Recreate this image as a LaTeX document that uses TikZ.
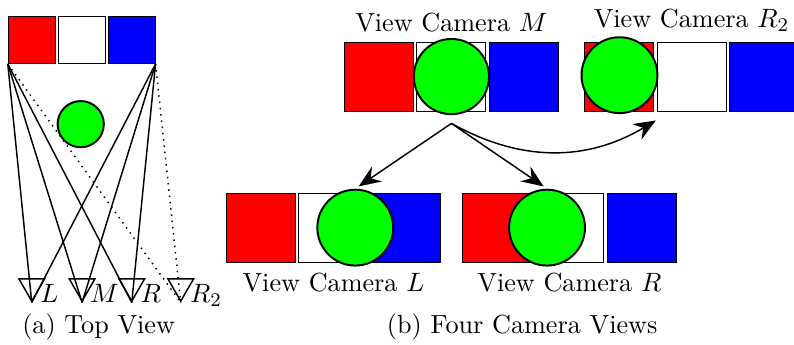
\documentclass[tikz,border=0pt]{standalone}
\usepackage{xcolor}
\usepackage{amsmath}
\usepackage{tikz}
\usetikzlibrary{arrows.meta, positioning, shapes.geometric}

\begin{document}
\begin{tikzpicture}[
  font=\fontsize{10.8}{13}\selectfont,
  node distance=0.04cm,
  tile/.style={draw, minimum size=0.68cm, inner sep=0},
  view/.style={draw, minimum size=1.0cm, inner sep=0},
  ball/.style={draw, thick, circle, fill=green, inner sep=0},
  cam/.style={draw, semithick, regular polygon, regular polygon sides=3, shape border rotate=180, inner sep=0, minimum size=0.43cm},
  camlabel/.style={anchor=base west, inner sep=0},
  ray/.style={semithick},
  arrow/.style={-{Stealth[length=3.2mm, width=2.6mm, inset=1.1mm]}, semithick}
]
  \useasboundingbox (0,0) rectangle (11.51,5.0);

  % top view
  \node[tile, fill=red] (topRed) at (0.46,4.42) {};
  \node[tile, fill=white, right=0.03cm of topRed] (topWhite) {};
  \node[tile, fill=blue, right=0.03cm of topWhite] (topBlue) {};
  \node[ball, minimum size=0.67cm] (topBall) at (1.17,3.20) {};

  \node[cam] (camL) at (0.46,0.85) {};
  \node[cam] (camM) at (1.19,0.85) {};
  \node[cam] (camR) at (1.91,0.85) {};
  \node[cam] (camRR) at (2.62,0.85) {};
  \node[camlabel] (labL) at (0.58,0.62) {$L$};
  \node[camlabel] (labM) at (1.30,0.62) {$M$};
  \node[camlabel] (labR) at (2.03,0.62) {$R$};
  \node[camlabel] (labRR) at (2.75,0.62) {$R_2$};

  \foreach \c in {camL, camM, camR} {
    \draw[ray] (topRed.south west) -- (\c.corner 1);
    \draw[ray] (topBlue.south east) -- (\c.corner 1);
  }
  \draw[ray, dotted] (topRed.south west) -- (camRR.corner 1);
  \draw[ray, dotted] (topBlue.south east) -- (camRR.corner 1);

  \node (capA) at (1.43,0.26) {(a) Top View};

  % four camera views
  \node[view, fill=red] (viewMred) at (5.49,3.89) {};
  \node[view, fill=white, right=of viewMred] (viewMwhite) {};
  \node[view, fill=blue, right=of viewMwhite] (viewMblue) {};
  \node[ball, minimum size=1.09cm] (viewMball) at (viewMwhite) {};
  \node[above=0.02cm of viewMwhite] (viewMlabel) {View Camera $M$};

  \node[view, fill=red] (viewRRred) at (8.97,3.89) {};
  \node[view, fill=white, right=of viewRRred] (viewRRwhite) {};
  \node[view, fill=blue, right=of viewRRwhite] (viewRRblue) {};
  \node[ball, minimum size=1.1cm] (viewRRball) at (8.98,3.91) {};
  \node[above=0.02cm of viewRRwhite] (viewRRlabel) {View Camera $R_2$};

  \node[view, fill=red] (viewLred) at (3.78,1.69) {};
  \node[view, fill=white, right=of viewLred] (viewLwhite) {};
  \node[view, fill=blue, right=of viewLwhite] (viewLblue) {};
  \node[ball, minimum size=1.1cm] (viewLball) at (5.15,1.70) {};
  \node[below=0.02cm of viewLwhite] (viewLlabel) {View Camera $L$};

  \node[view, fill=red] (viewRred) at (7.20,1.69) {};
  \node[view, fill=white, right=of viewRred] (viewRwhite) {};
  \node[view, fill=blue, right=of viewRwhite] (viewRblue) {};
  \node[ball, minimum size=1.1cm] (viewRball) at (7.93,1.70) {};
  \node[below=0.02cm of viewRwhite] (viewRlabel) {View Camera $R$};

  \coordinate (fork) at ([yshift=-0.12cm]viewMball.south);
  \coordinate (farTip) at ([shift={(0.03,-0.13)}]viewRRred.south east);
  \draw[arrow, shorten >=0.06cm] (fork) -- (viewLball.north);
  \draw[arrow, shorten >=0.06cm] (fork) -- (viewRball.north);
  \draw[arrow] (fork) to[bend right=30] (farTip);

  \node (capB) at (7.57,0.26) {(b) Four Camera Views};
\end{tikzpicture}
\end{document}
